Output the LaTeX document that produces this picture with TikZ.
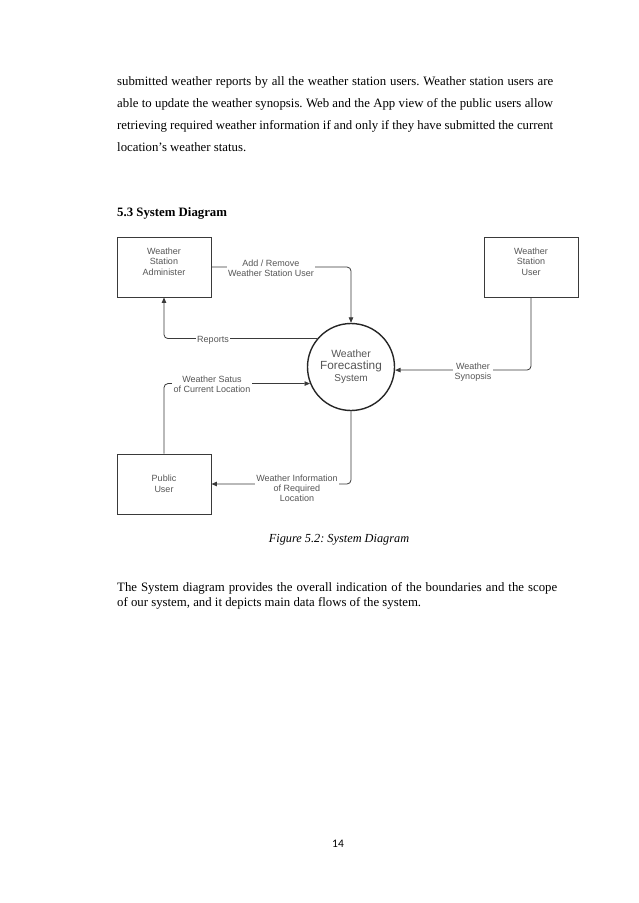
\documentclass[tikz,border=0pt]{standalone}
\usepackage{fontspec}
\setmainfont{Liberation Serif}
\newfontfamily\diagfont{Liberation Sans}
\newfontfamily\pagefont{Carlito}
\usetikzlibrary{arrows.meta}
\definecolor{linegray}{HTML}{3A3A3A}
\definecolor{textgray}{HTML}{555555}
\frenchspacing

\begin{document}
\begin{tikzpicture}[x=1pt, y=-1pt,
        entity/.style={rectangle, draw=linegray, line width=0.9pt, minimum width=94pt, minimum height=60pt, inner sep=0pt},
        process/.style={circle, draw=black!85, line width=1.4pt, minimum size=87pt, inner sep=0pt, align=center, text=textgray, font=\diagfont},
        boxtext/.style={font=\diagfont\fontsize{9}{10.5}\selectfont, text=textgray, align=center, inner sep=0pt},
        flowlabel/.style={font=\diagfont\fontsize{9}{10}\selectfont, text=textgray, align=center, fill=white, inner sep=1.5pt},
        flow/.style={draw=linegray, line width=0.8pt, rounded corners=4pt, -{Triangle[length=5.5pt,width=4.5pt]}},
        body/.style={anchor=base west, inner sep=0pt, font=\fontsize{12.8}{15}\selectfont}
    ]
        \useasboundingbox (0,0) rectangle (638,903);

        % Page text above the diagram
        \node[body] (p1a) at (117,85) {\makebox[436pt][s]{submitted weather reports by all the weather station users. Weather station users are}};
        \node[body] (p1b) at (117,107) {\makebox[436pt][s]{able to update the weather synopsis. Web and the App view of the public users allow}};
        \node[body] (p1c) at (117,129) {\makebox[436pt][s]{retrieving required weather information if and only if they have submitted the current}};
        \node[body] (p1d) at (117,151) {location’s weather status.};
        \node[body, font=\bfseries\fontsize{12.8}{15}\selectfont] (head) at (117,216) {5.3 System Diagram};

        % Entities and process
        \node[entity] (admin) at (164,267) {};
        \node[boxtext] (admin-txt) at (164,261.5) {Weather\\Station\\Administer};
        \node[entity] (wsuser) at (531,267) {};
        \node[boxtext] (wsuser-txt) at (531,261.5) {Weather\\Station\\User};
        \node[entity] (public) at (164,484) {};
        \node[boxtext] (public-txt) at (164,484) {Public\\User};
        \node[process] (wfs) at (351,367) {\fontsize{10.5}{13}\selectfont Weather\\\fontsize{11.8}{13.5}\selectfont Forecasting\\System};

        % Data flows
        \draw[flow] (admin.east) -- (admin.east -| wfs.north) -- (wfs.north);
        \draw[flow] (wfs.140) -- (wfs.140 -| admin.south) -- (admin.south);
        \draw[flow] (wsuser.south) -- (wsuser.south |- wfs.-4) -- (wfs.-4);
        \draw[flow] (public.north) -- (public.north |- wfs.202) -- (wfs.202);
        \draw[flow] (wfs.south) -- (wfs.south |- public.east) -- (public.east);

        % Flow labels
        \node[flowlabel] (l-add) at (271,268.5) {Add / Remove\\Weather Station User};
        \node[flowlabel] (l-rep) at (213,340) {Reports};
        \node[flowlabel] (l-syn) at (473,372) {Weather\\Synopsis};
        \node[flowlabel] (l-sta) at (212,384) {Weather Satus\\of Current Location};
        \node[flowlabel] (l-inf) at (297,488) {Weather Information\\of Required\\Location};

        % Caption and text below
        \node[body, anchor=base, font=\itshape\fontsize{12.3}{15}\selectfont] (cap) at (339,542) {Figure 5.2: System Diagram};
        \node[body] (p2a) at (117,591) {\makebox[440pt][s]{The System diagram provides the overall indication of the boundaries and the scope}};
        \node[body] (p2b) at (117,606) {of our system, and it depicts main data flows of the system.};
        \node[anchor=base, inner sep=0pt, font=\pagefont\fontsize{11.5}{13}\selectfont] (pageno) at (338,847) {14};
    \end{tikzpicture}
\end{document}
